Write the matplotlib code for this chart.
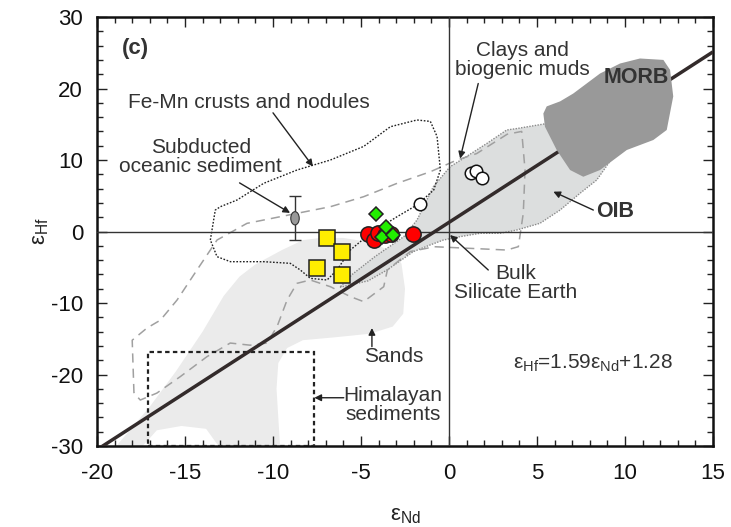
import numpy as np
import matplotlib
matplotlib.use('Agg')
import matplotlib.pyplot as plt
from matplotlib.patches import Ellipse, Polygon, Rectangle
from matplotlib.ticker import MultipleLocator

plt.rcParams['font.family'] = ['Liberation Sans', 'DejaVu Sans']
plt.rcParams['mathtext.fontset'] = 'custom'
plt.rcParams['mathtext.rm'] = 'Liberation Sans'
plt.rcParams['mathtext.it'] = 'Liberation Sans:italic'
plt.rcParams['mathtext.bf'] = 'Liberation Sans:bold'
plt.rcParams['axes.unicode_minus'] = False

TXT = '#333333'

# --- sample data (eNd, eHf) ---
sq_nd = [-6.95, -6.06, -7.48, -6.06]
sq_hf = [-0.95, -2.83, -5.15, -6.08]

red_nd = [-4.62, -4.26, -4.02, -3.64, -3.3, -2.03]
red_hf = [-0.35, -1.19, -0.25, -0.49, -0.4, -0.35]

dia_nd = [-4.15, -3.79, -3.6, -3.2]
dia_hf = [2.45, -0.73, 0.58, -0.49]

wht_nd = [-1.65, 1.23, 1.53, 1.86]
wht_hf = [3.85, 8.14, 8.5, 7.44]

sub_nd, sub_hf, sub_err = -8.75, 1.85, 3.05

# regression eHf = 1.59 eNd + 1.28
slope, icpt = 1.59, 1.28
line_nd = [-20, 15]

# --- fields (outlines) ---
sands_nd = [-18.9, -17.4, -16.6, -15.2, -13.8, -13.1, -9.6, -9.8, -9.7, -9.2, -8.3, -6.5,
            -4.5, -3.2, -2.6, -2.5, -2.7, -3.2, -4.5, -6.0, -7.3, -8.3, -9.5, -11.0,
            -11.9, -12.8, -14.0, -15.5, -17.0]
sands_hf = [-30, -30, -27.8, -27.2, -27.6, -30, -30, -22.0, -18.4, -16.3, -15.2, -14.8,
            -14.3, -13.3, -11.5, -8.0, -4.5, -2.8, -1.5, -0.9, -0.9, -1.2, -2.6, -4.6,
            -6.3, -9.0, -14.0, -19.5, -24.5]

oib_nd = [-6.2, -4.6, -3.52, -2.03, -1.08, -0.32, 0.63, 1.76, 2.9, 3.85, 5.17, 6.31, 7.44,
          8.39, 9.34, 9.62, 9.34, 8.58, 7.06, 5.55, 3.85, 3.28, 2.14, 1.0, 0.06, -0.89,
          -1.82, -2.57, -4.2, -5.5]
oib_hf = [-7.8, -6.9, -5.38, -2.82, -1.89, -1.19, -0.72, -0.25, -0.25, 0.21, 1.15, 3.0, 5.34,
          7.2, 10.5, 14.2, 17.0, 18.4, 17.0, 15.1, 14.4, 14.2, 12.3, 10.5, 9.06, 6.27,
          1.6, -0.72, -3.5, -6.0]

morb_nd = [5.36, 5.55, 6.31, 7.06, 8.58, 9.72, 10.85, 12.18, 12.56, 12.74, 12.37, 11.61,
           10.1, 8.58, 7.63, 6.88, 6.12, 5.45]
morb_hf = [16.5, 17.5, 18.2, 19.3, 22.1, 23.5, 24.2, 24.0, 22.6, 18.9, 14.2, 12.8,
           11.4, 8.6, 7.66, 8.6, 11.4, 14.66]

femn_nd = [-13.56, -13.28, -12.99, -12.05, -10.53, -8.64, -6.74, -4.85, -3.33, -1.82,
           -1.06, -0.68, -0.49, -0.87, -1.82, -2.95, -4.47, -5.61, -6.36, -6.93, -7.88,
           -8.45, -9.02, -10.53, -12.42, -13.18, -13.56]
femn_hf = [-1.19, 3.0, 3.47, 4.4, 6.74, 8.6, 10.0, 11.9, 14.66, 15.6,
           15.4, 13.3, 8.6, 5.8, 3.71, 2.07, -0.25, -2.59, -5.38, -6.78, -6.55,
           -5.38, -4.45, -4.22, -4.22, -3.52, -1.19]

clay_nd = [-17.9, -18.0, -17.16, -16.4, -15.45, -14.32, -13.18, -11.48, -8.64, -6.74,
           -4.85, -2.95, -1.06, 0.45, 1.57, 3.3, 4.13, 4.32, 4.22, 3.94, 3.28, -0.89,
           -1.27, -2.2, -3.5, -3.71, -4.85, -5.61, -6.74, -7.88, -8.64, -9.2, -9.77,
           -10.34, -11.3, -12.43, -13.75, -15.27, -16.6, -17.54, -17.9]
clay_hf = [-22.6, -15.2, -13.5, -12.4, -9.58, -5.38, -1.19, 1.14, 2.54, 3.47,
           4.87, 6.74, 8.36, 10.0, 10.9, 13.6, 14.0, 8.6, 2.55, -2.12, -2.59, -2.12,
           -2.35, -2.8, -5.38, -7.72, -9.81, -9.1, -7.72, -6.78, -7.25, -9.58, -13.3,
           -15.6, -15.9, -15.6, -17.5, -20.3, -22.6, -23.57, -22.6]

him_nd = [-17.12, -7.65]
him_hf = [-30, -16.8]

fig = plt.figure(figsize=(7.31, 5.27), dpi=100)
ax = fig.add_axes([0.1327, 0.1537, 0.8427, 0.814])

ax.add_patch(Polygon(np.column_stack([sands_nd, sands_hf]), closed=True,
                     facecolor='#ebebeb', edgecolor='none', zorder=1))
ax.add_patch(Polygon(np.column_stack([oib_nd, oib_hf]), closed=True,
                     facecolor='#dcdede', edgecolor='#8a8a8a', lw=1.0, ls=(0, (1, 1)), zorder=2))
ax.plot(clay_nd, clay_hf, color='#a0a0a0', lw=1.1, ls=(0, (6, 4)), zorder=3)
ax.plot(femn_nd, femn_hf, color='#222222', lw=1.0, ls=(0, (1.2, 1.2)), zorder=3)
ax.add_patch(Rectangle((him_nd[0], him_hf[0]), him_nd[1] - him_nd[0], him_hf[1] - him_hf[0],
                       facecolor='none', edgecolor='#222222', lw=1.6, ls=(0, (2, 1.5)), zorder=3))

ax.axhline(0, color='#333333', lw=1.0, zorder=3)
ax.axvline(0, color='#333333', lw=1.0, zorder=3)

lx = np.array(line_nd, dtype=float)
ax.plot(lx, slope * lx + icpt, color='#332b2b', lw=2.5, zorder=4, solid_capstyle='butt')

ax.add_patch(Polygon(np.column_stack([morb_nd, morb_hf]), closed=True,
                     facecolor='#999999', edgecolor='none', zorder=5))

# samples
ax.errorbar([sub_nd], [sub_hf], yerr=[sub_err], fmt='none', ecolor='#333333',
            elinewidth=1.0, capsize=4, capthick=1.0, zorder=6)
ax.add_patch(Ellipse((sub_nd, sub_hf), 0.48, 1.85, facecolor='#999999',
                     edgecolor='#333333', lw=0.8, zorder=7))
ax.plot(wht_nd, wht_hf, 'o', ms=9, mfc='white', mec='#111111', mew=1.1, ls='none', zorder=7)
ax.plot(sq_nd, sq_hf, 's', ms=11.5, mfc='#ffee00', mec='#222222', mew=1.1, ls='none', zorder=7)
ax.plot(red_nd, red_hf, 'o', ms=11, mfc='#ff0000', mec='#222222', mew=1.1, ls='none', zorder=7)
ax.plot(dia_nd, dia_hf, 'D', ms=7.5, mfc='#22ee00', mec='#222222', mew=1.1, ls='none', zorder=8)

# labels and arrows
fs = 15
arw = dict(arrowstyle='-|>', color='#222222', lw=1.0, mutation_scale=10, shrinkA=0, shrinkB=0)


def arrow(start, end):
    ax.annotate('', xy=end, xytext=start, arrowprops=arw, zorder=9)


ax.text(-18.6, 25.6, '(c)', fontsize=16, fontweight='bold', color=TXT, ha='left', va='center')

ax.text(-11.36, 18.0, 'Fe-Mn crusts and nodules', fontsize=fs, color=TXT, ha='center', va='center')
arrow((-10.0, 16.6), (-7.73, 9.1))

ax.text(-14.1, 10.4, 'Subducted\noceanic sediment', fontsize=fs, color=TXT, ha='center',
        va='center', linespacing=1.0)
arrow((-11.9, 6.8), (-9.03, 2.6))

ax.text(4.15, 24.0, 'Clays and\nbiogenic muds', fontsize=fs, color=TXT, ha='center',
        va='center', linespacing=1.0)
arrow((1.66, 20.7), (0.63, 10.2))

ax.text(10.66, 21.6, 'MORB', fontsize=15.5, fontweight='bold', color=TXT, ha='center',
        va='center', zorder=9)

ax.text(9.43, 2.77, 'OIB', fontsize=15.5, fontweight='bold', color=TXT, ha='center', va='center')
arrow((8.2, 3.0), (5.93, 5.57))

ax.text(3.8, -7.2, 'Bulk\nSilicate Earth', fontsize=fs, color=TXT, ha='center', va='center',
        linespacing=1.0)
arrow((2.23, -5.38), (0.06, -0.49))

ax.text(-3.14, -17.5, 'Sands', fontsize=fs, color=TXT, ha='center', va='center')
arrow((-4.38, -16.1), (-4.38, -13.5))

ax.text(-3.18, -24.3, 'Himalayan\nsediments', fontsize=fs, color=TXT, ha='center', va='center',
        linespacing=1.0)
arrow((-5.98, -23.25), (-7.65, -23.25))

ax.text(8.2, -18.4, 'ε$_\\mathrm{Hf}$=1.59ε$_\\mathrm{Nd}$+1.28', fontsize=fs, color=TXT,
        ha='center', va='center')

ax.set_xlim(-20, 15)
ax.set_ylim(-30, 30)
ax.xaxis.set_major_locator(MultipleLocator(5))
ax.xaxis.set_minor_locator(MultipleLocator(1))
ax.yaxis.set_major_locator(MultipleLocator(10))
ax.yaxis.set_minor_locator(MultipleLocator(2))
ax.tick_params(which='both', direction='in', top=True, right=True, width=1.0, color='#222222')
ax.tick_params(which='major', length=7, labelsize=16, labelcolor='#111111')
ax.tick_params(axis='x', which='major', pad=12)
ax.tick_params(axis='y', which='major', pad=10)
ax.tick_params(which='minor', length=4.5)
for s in ax.spines.values():
    s.set_linewidth(1.8)
    s.set_color('#111111')

ax.set_xlabel('ε$_\\mathrm{Nd}$', fontsize=16, color='#222222', va='center')
ax.set_ylabel('ε$_\\mathrm{Hf}$', fontsize=16, color='#222222', va='center')
ax.xaxis.set_label_coords(0.5, -0.161)
ax.yaxis.set_label_coords(-0.0925, 0.5)

fig.savefig('out.png', dpi=100)
